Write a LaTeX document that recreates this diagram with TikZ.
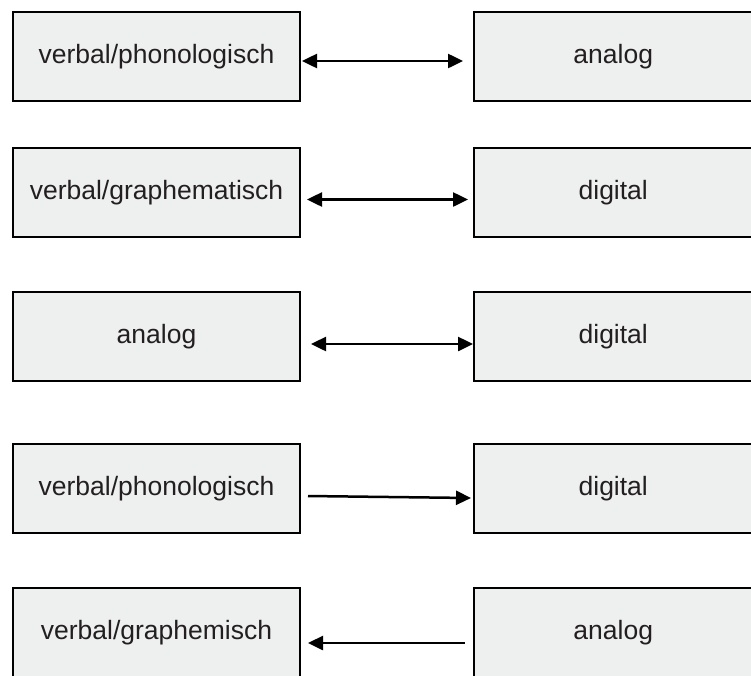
\documentclass[tikz,border=0pt]{standalone}
\usepackage{fontspec}
\setmainfont{Liberation Sans}
\usetikzlibrary{arrows.meta}
\definecolor{boxfill}{HTML}{EEEFEF}
\definecolor{ink}{HTML}{231F20}
\begin{document}
\begin{tikzpicture}[x=1pt,y=-1pt,
  box/.style={draw=black, line width=2pt, fill=boxfill, text=ink,
    font=\fontsize{26.5}{30}\selectfont, inner sep=0pt, outer sep=0pt,
    minimum height=89pt},
  lbox/.style={box, minimum width=287pt},
  rbox/.style={box, minimum width=278.5pt},
  conn/.style={line width=2.5pt, draw=black},
  >={Triangle[length=15pt,width=14pt]}]
\useasboundingbox (0,0) rectangle (751,675);
\clip (0,0) rectangle (751,675);

% left column
\node[lbox] (L1) at (156.5,56.5)  {verbal/phonologisch};
\node[lbox] (L2) at (156.5,192.5) {verbal/graphematisch};
\node[lbox] (L3) at (156.5,336.5) {analog};
\node[lbox] (L4) at (156.5,488.5) {verbal/phonologisch};
\node[lbox] (L5) at (156.5,632.5) {verbal/graphemisch};

% right column
\node[rbox] (R1) at (613.25,56.5)  {analog};
\node[rbox] (R2) at (613.25,192.5) {digital};
\node[rbox] (R3) at (613.25,336.5) {digital};
\node[rbox] (R4) at (613.25,488.5) {digital};
\node[rbox] (R5) at (613.25,632.5) {analog};

% connectors
\draw[conn,<->] ([shift={(2,4.5)}]L1.east) -- ([shift={(-11,4.5)}]R1.west);
\draw[conn,<->] ([shift={(7,7)}]L2.east) -- ([shift={(-6,7)}]R2.west);
\draw[conn,<->] ([shift={(11,7.5)}]L3.east) -- ([shift={(-1,7.5)}]R3.west);
\draw[conn,->] ([shift={(8,7.5)}]L4.east) -- ([shift={(-3,9.5)}]R4.west);
\draw[conn,<-] ([shift={(8,10.5)}]L5.east) -- ([shift={(-9,10.5)}]R5.west);
\end{tikzpicture}
\end{document}
